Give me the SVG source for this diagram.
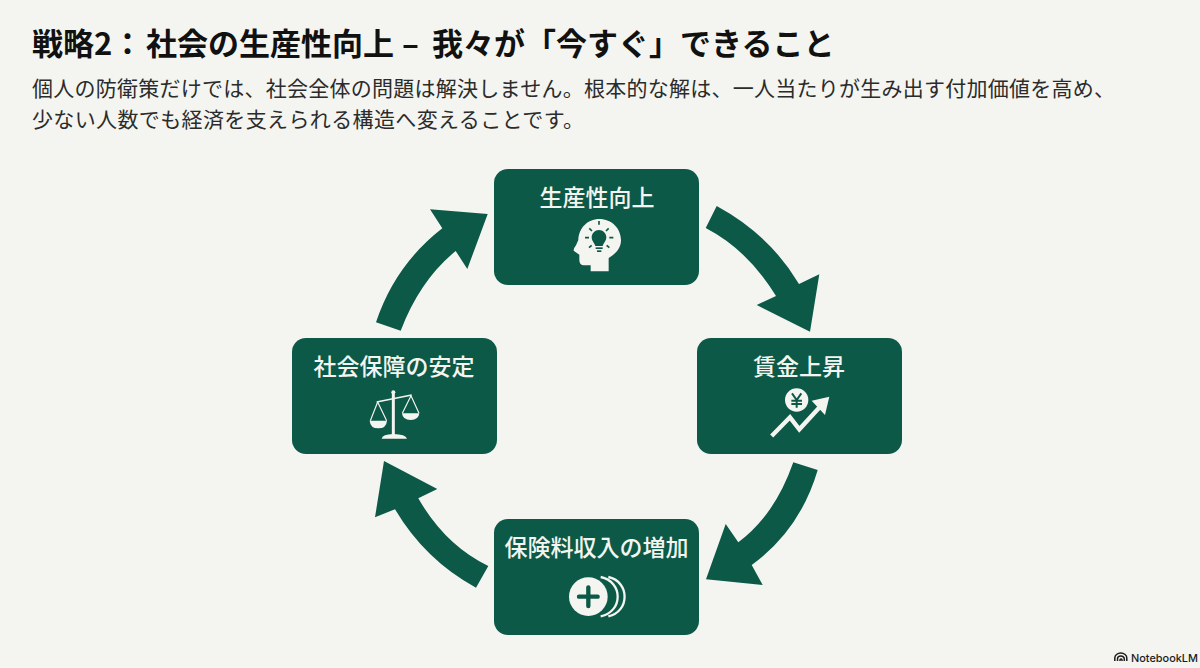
<svg xmlns="http://www.w3.org/2000/svg" width="1200" height="668" viewBox="0 0 1200 668">
<style>
text{font-family:"Noto Sans CJK JP","Noto Sans",sans-serif}
.title{font-size:31px;font-weight:700;fill:#111}
.sub{font-size:21px;font-weight:400;fill:#2b2b2b}
.card{fill:#0c5947}
.lbl{font-size:23px;font-weight:500;fill:#f4f5f0;text-anchor:middle}
.arrow{fill:#0c5947}
.w{fill:#f4f5f0}
.d{fill:#0c5947}
.ws{fill:none;stroke:#f4f5f0}
.ds{fill:none;stroke:#0c5947}
.logo{font-family:"Inter","Liberation Sans",sans-serif;font-size:11px;font-weight:500;fill:#1c1c1c}
</style>
<rect width="1200" height="668" fill="#f4f5f0"/>
<g id="heading">
<text class="title" y="54.500"><tspan x="32">戦略2</tspan><tspan x="112">&#xFF1A;</tspan><tspan x="146">社会の生産性向上</tspan><tspan x="402">–</tspan><tspan x="432">我々が「今すぐ」できること</tspan></text>
<text class="sub" x="32" y="96" textLength="1083" lengthAdjust="spacing">個人の防衛策だけでは、社会全体の問題は解決しません。根本的な解は、一人当たりが生み出す付加価値を高め、</text>
<text class="sub" x="32" y="127" textLength="552" lengthAdjust="spacing">少ない人数でも経済を支えられる構造へ変えることです。</text>
</g>
<g id="connectors">
<path class="arrow" d="M716.7 206Q770 235 799 284L819.3 274.3L810 331.7L756.7 305L776 296Q748 250 705.7 228Z"/>
<path class="arrow" d="M817.7 470Q800 530 751.7 565L762.7 585L706 579.3L725.7 524L738.3 542.3Q775 515 793.3 462.3Z"/>
<path class="arrow" d="M476 587.7Q425 560 395 509.3L375 517.3L384 461L437.3 489L418.3 498.3Q445 545 488.3 566Z"/>
<path class="arrow" d="M376 322.3Q395 265 442.3 228.3L430 209.3L487.7 214L467.3 269L455.7 251Q420 280 400.7 330.7Z"/>
</g>
<g id="node-productivity">
<rect class="card" x="494" y="169" width="205" height="116" rx="14"/>
<text class="lbl" x="597" y="205.500">生産性向上</text>
<g transform="translate(490 160) scale(.33333)">
<path class="w" d="M302 334V316H280Q268 314 268 300V284L251 272Q250 266 258 256L265 240C266 205 292 177 328 177C365 177 393 205 393 241C393 262 380 280 356 294V334Z"/>
<path class="d" d="M327 210C339 210 349 220 349 232C349 243 341 248 338 258H316C313 248 305 243 305 232C305 220 315 210 327 210Z"/>
<rect class="d" x="317" y="262" width="21" height="5"/><rect class="d" x="321" y="271" width="13" height="5"/>
<path class="ds" stroke-width="5" d="M327 183v11M298 205l8 8M356 205l-8 8M285 233h12M358 233h12M297 263l8-7M358 263l-8-7"/>
</g>
</g>
<g id="node-wages">
<rect class="card" x="697" y="338" width="205" height="116" rx="14"/>
<text class="lbl" x="799" y="374.500">賃金上昇</text>
<g transform="translate(690 330) scale(.33333)">
<circle class="w" cx="320" cy="210" r="35"/>
<path class="ds" stroke-width="6" d="M306 190L320 210L334 190M320 210V233M304 212H336M304 222H336"/>
<path class="ds" stroke-width="22" d="M300 262L328 298L395 225"/>
<path class="ws" stroke-width="13" d="M245 318L300 262L328 298L395 225"/>
<path class="w" d="M418 200L365 212L405 255Z"/>
</g>
</g>
<g id="node-premium">
<rect class="card" x="494" y="519" width="205" height="116" rx="14"/>
<text class="lbl" x="596.500" y="556">保険料収入の増加</text>
<g transform="translate(490 515) scale(.33333)">
<circle class="w" cx="295" cy="245" r="58"/>
<path class="ds" stroke-width="13" stroke-linecap="round" d="M295 217V273M267 245H323"/>
<path class="ws" stroke-width="7" d="M332 186C400 200 400 290 332 304"/>
<path class="ws" stroke-width="7" d="M355 186C420 200 420 290 355 304"/>
</g>
</g>
<g id="node-security">
<rect class="card" x="292" y="338" width="205" height="116" rx="14"/>
<text class="lbl" x="394" y="374.500">社会保障の安定</text>
<g transform="translate(285 330) scale(.33333)">
<circle class="w" cx="325" cy="187" r="6"/>
<path class="ws" stroke-width="9" d="M325 190V318"/>
<path class="w" d="M290 326Q292 313 325 312Q362 313 366 326Z"/>
<path class="ws" stroke-width="5" d="M275 216L380 195"/>
<path class="ws" stroke-width="3.500" d="M278 216L256 272M278 216L305 272M378 197L352 250M378 197L402 250"/>
<path class="w" d="M254 272H306Q304 295 280 295Q256 295 254 272Z"/>
<path class="w" d="M351 250H403Q401 270 377 270Q353 270 351 250Z"/>
</g>
</g>
<g id="brand">
<path fill="none" stroke="#1c1c1c" stroke-width="1.500" d="M1114.800 661V658a6 5 0 0 1 12 0V661M1117.500 661V659a3.400 3 0 0 1 6.800 0V661M1120 661V660a1 1 0 0 1 2 0V661"/>
<text class="logo" x="1131" y="661.500" textLength="67" lengthAdjust="spacingAndGlyphs">NotebookLM</text>
</g>
</svg>
